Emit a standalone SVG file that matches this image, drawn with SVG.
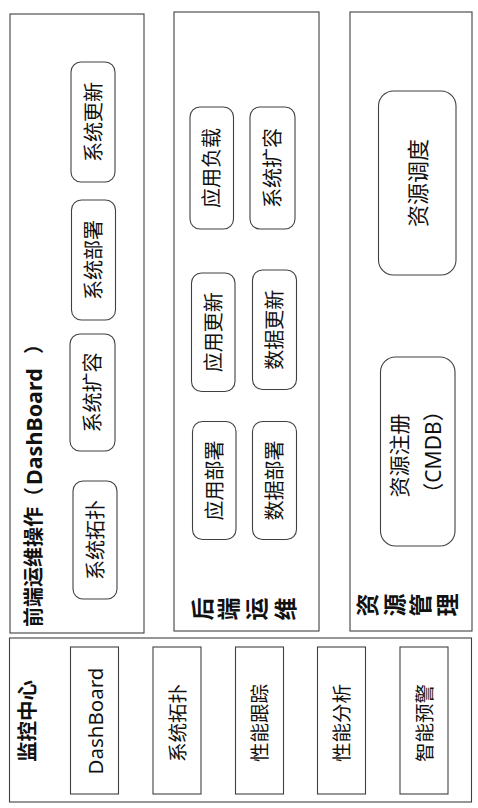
<svg xmlns="http://www.w3.org/2000/svg" width="478" height="808" viewBox="0 0 478 808">
<style>
.panel{fill:#fff;stroke:#404040;stroke-width:1.1}
.box{fill:#fff;stroke:#404040;stroke-width:1.1}
.t{font-family:"Noto Sans","Noto Sans CJK SC",sans-serif;fill:#111;text-anchor:middle;dominant-baseline:central}
.s20{font-size:20px}
.s19{font-size:19.5px}
.s22{font-size:22px}
.b{font-weight:bold}
.title{font-family:"Noto Sans","Noto Sans CJK SC",sans-serif;fill:#111;font-weight:bold;font-size:20px;dominant-baseline:central}
</style>
<rect width="478" height="808" fill="#fff"/>
<g id="panel-frontend">
<rect class="panel" x="10" y="14" width="134" height="619"/>
<text class="title" transform="translate(33,627) rotate(-90)">前端运维操作（</text>
<text class="title" style="font-size:21.5px" transform="translate(33,485) rotate(-90)">DashBoard</text>
<text class="title" transform="translate(33,354) rotate(-90)">）</text>
</g>
<g id="node-fe-update"><rect class="box" x="71" y="62" width="44" height="120" rx="10"/><text class="t s20" transform="translate(93,122) rotate(-90)">系统更新</text></g>
<g id="node-fe-deploy"><rect class="box" x="71.5" y="200" width="44" height="120" rx="10"/><text class="t s20" transform="translate(93.5,260) rotate(-90)">系统部署</text></g>
<g id="node-fe-scale"><rect class="box" x="70" y="334" width="45" height="117" rx="10"/><text class="t s20" transform="translate(92.5,392.5) rotate(-90)">系统扩容</text></g>
<g id="node-fe-topo"><rect class="box" x="73" y="481" width="44" height="118" rx="10"/><text class="t s20" transform="translate(95,540) rotate(-90)">系统拓扑</text></g>

<g id="panel-backend">
<rect class="panel" x="174" y="12" width="145" height="619"/>
<g class="t b" style="font-size:23px">
<text transform="translate(201.5,609) rotate(-90)">后</text>
<text transform="translate(227.5,609) rotate(-90)">端</text>
<text transform="translate(256,609) rotate(-90)">运</text>
<text transform="translate(285,609) rotate(-90)">维</text>
</g>
</g>
<g id="node-app-load"><rect class="box" x="190" y="107" width="43.5" height="122" rx="10"/><text class="t s20" transform="translate(211.7,168) rotate(-90)">应用负载</text></g>
<g id="node-sys-scale"><rect class="box" x="250" y="107" width="45" height="122" rx="10"/><text class="t s20" transform="translate(272.5,168) rotate(-90)">系统扩容</text></g>
<g id="node-app-update"><rect class="box" x="191.5" y="273" width="43.5" height="118.5" rx="10"/><text class="t s20" transform="translate(213.2,332.3) rotate(-90)">应用更新</text></g>
<g id="node-data-update"><rect class="box" x="252.5" y="270" width="44" height="119.5" rx="10"/><text class="t s20" transform="translate(274.5,329.8) rotate(-90)">数据更新</text></g>
<g id="node-app-deploy"><rect class="box" x="192.5" y="421.5" width="43.5" height="118" rx="10"/><text class="t s20" transform="translate(214.2,480.5) rotate(-90)">应用部署</text></g>
<g id="node-data-deploy"><rect class="box" x="252.5" y="421.5" width="44" height="118" rx="10"/><text class="t s20" transform="translate(274.5,480.5) rotate(-90)">数据部署</text></g>

<g id="panel-resource">
<rect class="panel" x="350" y="12" width="122" height="619"/>
<g class="t b" style="font-size:23px">
<text transform="translate(366.5,605) rotate(-90)">资</text>
<text transform="translate(394,605) rotate(-90)">源</text>
<text transform="translate(420,605) rotate(-90)">管</text>
<text transform="translate(447,605) rotate(-90)">理</text>
</g>
</g>
<g id="node-res-schedule"><rect class="box" x="378.5" y="91" width="77.5" height="184" rx="15"/><text class="t s22" transform="translate(417.2,183) rotate(-90)">资源调度</text></g>
<g id="node-res-register"><rect class="box" x="380.5" y="357" width="74.5" height="189" rx="15"/>
<text class="t" style="font-size:21px" transform="translate(399,455.5) rotate(-90)">资源注册</text>
<text class="t" style="font-size:21px" transform="translate(433,452) rotate(-90)">（CMDB）</text>
</g>

<g id="panel-monitor">
<rect class="panel" x="9.5" y="638" width="462" height="164"/>
<text class="t b" style="font-size:20.5px" transform="translate(27,721) rotate(-90)">监控中心</text>
</g>
<g id="node-dashboard"><rect class="box" x="70.5" y="647" width="48" height="147"/><text class="t" style="font-size:20.5px" transform="translate(94.5,721) rotate(-90)">DashBoard</text></g>
<g id="node-topology"><rect class="box" x="153" y="647" width="48" height="147"/><text class="t s19" transform="translate(177,723) rotate(-90)">系统拓扑</text></g>
<g id="node-perf-trace"><rect class="box" x="235.5" y="647" width="48" height="147"/><text class="t s19" transform="translate(259.5,723) rotate(-90)">性能跟踪</text></g>
<g id="node-perf-analysis"><rect class="box" x="317.5" y="647" width="48" height="147"/><text class="t s19" transform="translate(341.5,723) rotate(-90)">性能分析</text></g>
<g id="node-alert"><rect class="box" x="400" y="647" width="48" height="147"/><text class="t s19" transform="translate(424,723) rotate(-90)">智能预警</text></g>

<g id="connectors"/>
</svg>
